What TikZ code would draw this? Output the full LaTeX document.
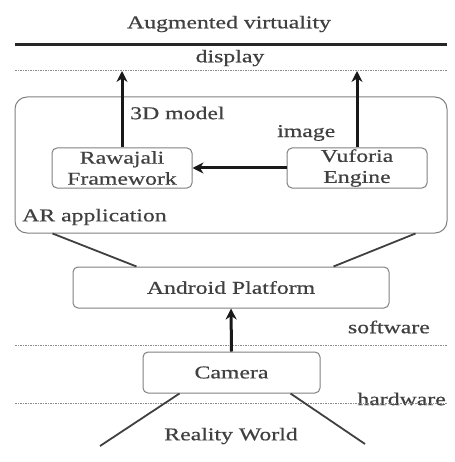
\documentclass[tikz,border=0pt]{standalone}
\usepackage{fontspec}
\setmainfont[FakeStretch=1.32,FakeBold=0.6]{Liberation Serif}
\usetikzlibrary{arrows.meta,calc}
\begin{document}
\begin{tikzpicture}[x=1pt,y=-1pt,
  txt/.style={font=\fontsize{18}{21}\selectfont, text=black!75, inner sep=0pt},
  box/.style={draw=black!50, line width=1pt, rounded corners=5pt, inner sep=0pt, align=center,
              font=\fontsize{18}{21}\selectfont, text=black!75},
  arr/.style={draw=black!90, line width=3pt, -{Stealth[length=11pt,width=11pt]}},
  dotln/.style={draw=black!45, line width=0.8pt, dash pattern=on 1.5pt off 1pt},
  diag/.style={draw=black!75, line width=1.8pt}]
\useasboundingbox (0,0) rectangle (454,462);

% titles
\node[txt] (title) at (229,24) {Augmented virtuality};
\draw[line width=3pt, draw=black!85] (15,45) coordinate (t1) -- (447,45) coordinate (t2);
\node[txt] (display) at (230,58) {display};
\draw[dotln] (15,70) coordinate (d1) -- (447,70) coordinate (d2);

% AR application container
\node[draw=black!50, line width=1pt, rounded corners=12pt, minimum width=432pt, minimum height=136pt,
      inner sep=0pt] (ar) at (231,165) {};
\node[box, minimum width=140pt, minimum height=40pt] (raw) at (122,168) {Rawajali\\Framework};
\node[box, minimum width=140pt, minimum height=40pt] (vuf) at (357,168) {Vuforia\\Engine};
\node[txt, anchor=west] (model) at (130,113) {3D model};
\node[txt, anchor=west] (image) at (277,133) {image};
\node[txt, anchor=west] (arapp) at (22,217) {AR application};

\coordinate (ra) at (122,71);
\coordinate (va) at (357,71);
\draw[arr] (raw.north) -- (ra);
\draw[arr] (vuf.north) -- (va);
\draw[arr] (vuf.west) -- (raw.east);

% Android
\node[box, minimum width=316pt, minimum height=41pt] (android) at (231,287.5) {Android Platform};
\draw[diag] ([xshift=38pt]ar.south west) -- ([xshift=64pt]android.north west);
\draw[diag] ([xshift=-32pt]ar.south east) -- ([xshift=-56pt]android.north east);

\node[txt, anchor=east] (software) at (430,327) {software};
\draw[dotln] (15,345) coordinate (s1) -- (447,345) coordinate (s2);

% Camera
\node[box, minimum width=177pt, minimum height=41pt] (camera) at (231.5,372.5) {Camera};
\draw[arr] (camera.north) -- (android.south);

\node[txt, anchor=east] (hardware) at (446,399) {hardware};
\draw[dotln] (15,403) coordinate (h1) -- (447,403) coordinate (h2);

\node[txt] (reality) at (231,436) {Reality World};
\coordinate (rl) at (100,446);
\coordinate (rr) at (365,444);
\draw[diag] ([xshift=37pt]camera.south west) -- (rl);
\draw[diag] ([xshift=-30pt]camera.south east) -- (rr);
\end{tikzpicture}
\end{document}
